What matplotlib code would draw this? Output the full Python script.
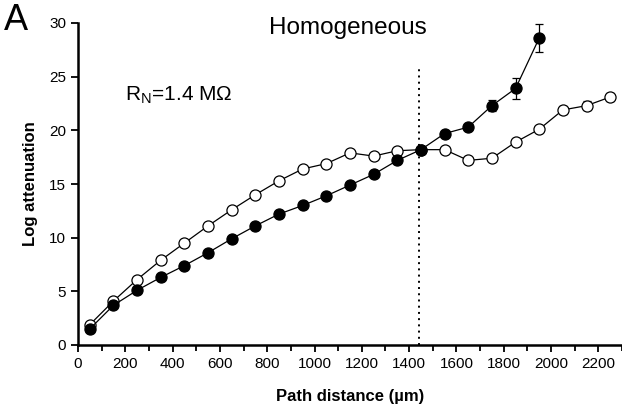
import numpy as np
import matplotlib
matplotlib.use("Agg")
import matplotlib.pyplot as plt
from matplotlib.ticker import MultipleLocator

plt.rcParams["font.family"] = ["Liberation Sans", "DejaVu Sans"]

# Filled circles
dist_filled = [50, 150, 250, 350, 450, 550, 650, 750, 850, 950, 1050, 1150,
               1250, 1350, 1450, 1550, 1650, 1750, 1850, 1950]
att_filled = [1.5, 3.7, 5.1, 6.3, 7.4, 8.6, 9.9, 11.1, 12.2, 13.0, 13.9, 14.9,
              15.9, 17.2, 18.2, 19.7, 20.3, 22.3, 23.9, 28.6]
err_filled = [0.1, 0.1, 0.1, 0.1, 0.1, 0.1, 0.1, 0.1, 0.1, 0.1, 0.1, 0.1,
              0.1, 0.1, 0.1, 0.2, 0.2, 0.5, 1.0, 1.3]

# Open circles
dist_open = [50, 150, 250, 350, 450, 550, 650, 750, 850, 950, 1050, 1150,
             1250, 1350, 1450, 1550, 1650, 1750, 1850, 1950, 2050, 2150, 2250]
att_open = [1.9, 4.1, 6.1, 7.9, 9.5, 11.1, 12.6, 14.0, 15.3, 16.4, 16.9, 17.9,
            17.6, 18.1, 18.2, 18.2, 17.2, 17.4, 18.9, 20.1, 21.9, 22.3, 23.1]
err_open = [0.1] * 20 + [0.4, 0.4, 0.4]

boundary = 1440

fig = plt.figure(figsize=(6.22, 4.09), dpi=100)
ax = fig.add_axes([78 / 622, 64 / 409, 544 / 622, 322 / 409])

ax.errorbar(dist_open, att_open, yerr=err_open, color="black", lw=0.9,
            marker="o", ms=8, mfc="white", mec="black", mew=0.9,
            capsize=3, elinewidth=0.9, zorder=3)
ax.errorbar(dist_filled, att_filled, yerr=err_filled, color="black", lw=0.9,
            marker="o", ms=8, mfc="black", mec="black", mew=0.9,
            capsize=3, elinewidth=0.9, zorder=4)
ax.plot([boundary, boundary], [0, 26], color="black", ls=(0, (1, 2.2)), lw=1.4,
        zorder=2)

ax.set_xlim(0, 2300)
ax.set_ylim(0, 30)
ax.xaxis.set_major_locator(MultipleLocator(200))
ax.xaxis.set_minor_locator(MultipleLocator(100))
ax.yaxis.set_major_locator(MultipleLocator(5))
ax.spines["top"].set_visible(False)
ax.spines["right"].set_visible(False)
ax.spines["left"].set_linewidth(1.8)
ax.spines["bottom"].set_linewidth(1.8)
ax.tick_params(which="major", direction="out", length=5, width=1.3,
               labelsize=11)
ax.tick_params(which="minor", direction="out", length=4, width=1.3)

ax.set_xlabel("Path distance (µm)", fontsize=12, fontweight="bold", labelpad=13)
ax.set_ylabel("Log attenuation", fontsize=12, fontweight="bold", labelpad=8)

fig.text(348 / 622, 1 - 28 / 409, "Homogeneous", fontsize=17.5,
         ha="center", va="center")
fig.text(4 / 622, 1 - 20 / 409, "A", fontsize=26, ha="left", va="center")
ax.text(200, 23.3, r"R$_\mathregular{N}$=1.4 MΩ", fontsize=15,
        ha="left", va="center")

fig.savefig("out.png", dpi=100)
